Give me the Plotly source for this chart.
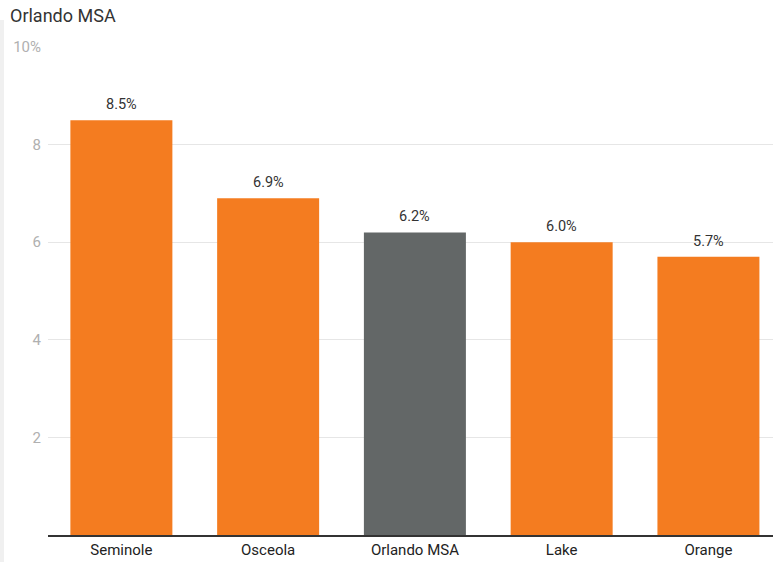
import plotly.graph_objects as go

categories = ["Seminole", "Osceola", "Orlando MSA", "Lake", "Orange"]
values = [8.5, 6.9, 6.2, 6.0, 5.7]
colors = ["#F47C20", "#F47C20", "#636767", "#F47C20", "#F47C20"]
tick_vals = [2, 4, 6, 8, 10]
tick_text = ["2", "4", "6", "8", "10%"]

W, H = 773, 562
L, R, T, B = 48, 0, 47, 27

fig = go.Figure()
fig.add_trace(go.Bar(x=categories, y=values, marker=dict(color=colors, line=dict(width=0)),
                     hoverinfo="skip"))

for c, v in zip(categories, values):
    fig.add_annotation(x=c, y=v, text=f"{v:.1f}%", showarrow=False, yanchor="bottom",
                       yshift=5, font=dict(family="Roboto", size=14.5, color="#333333"))

fig.update_layout(
    width=W, height=H,
    margin=dict(l=L, r=R, t=T, b=B),
    paper_bgcolor="white", plot_bgcolor="white",
    bargap=0.305,
    showlegend=False,
    font=dict(family="Roboto"),
    title=dict(text="Orlando MSA", x=10 / W, xanchor="left", xref="container",
               y=1 - 16 / H, yanchor="middle", yref="container",
               font=dict(family="Roboto", size=18, color="#333333")),
    xaxis=dict(range=[-0.5, 4.44], showgrid=False, showline=True, linecolor="#333333",
               linewidth=1.5, ticks="", tickfont=dict(family="Roboto", size=15, color="#222222")),
    yaxis=dict(range=[0, 10], tickvals=tick_vals, ticktext=tick_text, showgrid=True,
               gridcolor="#e6e6e6", gridwidth=1, zeroline=False, showline=False,
               tickfont=dict(family="Roboto", size=15, color="#b0b0b0"), ticklabelstandoff=6),
    shapes=[dict(type="rect", xref="paper", yref="paper", x0=-L / (W - L - R), x1=-(L - 4) / (W - L - R),
                 y0=-B / (H - T - B), y1=(H - T) / (H - T - B), fillcolor="#f0f0f0",
                 line=dict(width=0), layer="below")],
)

fig.write_html("out.html")
